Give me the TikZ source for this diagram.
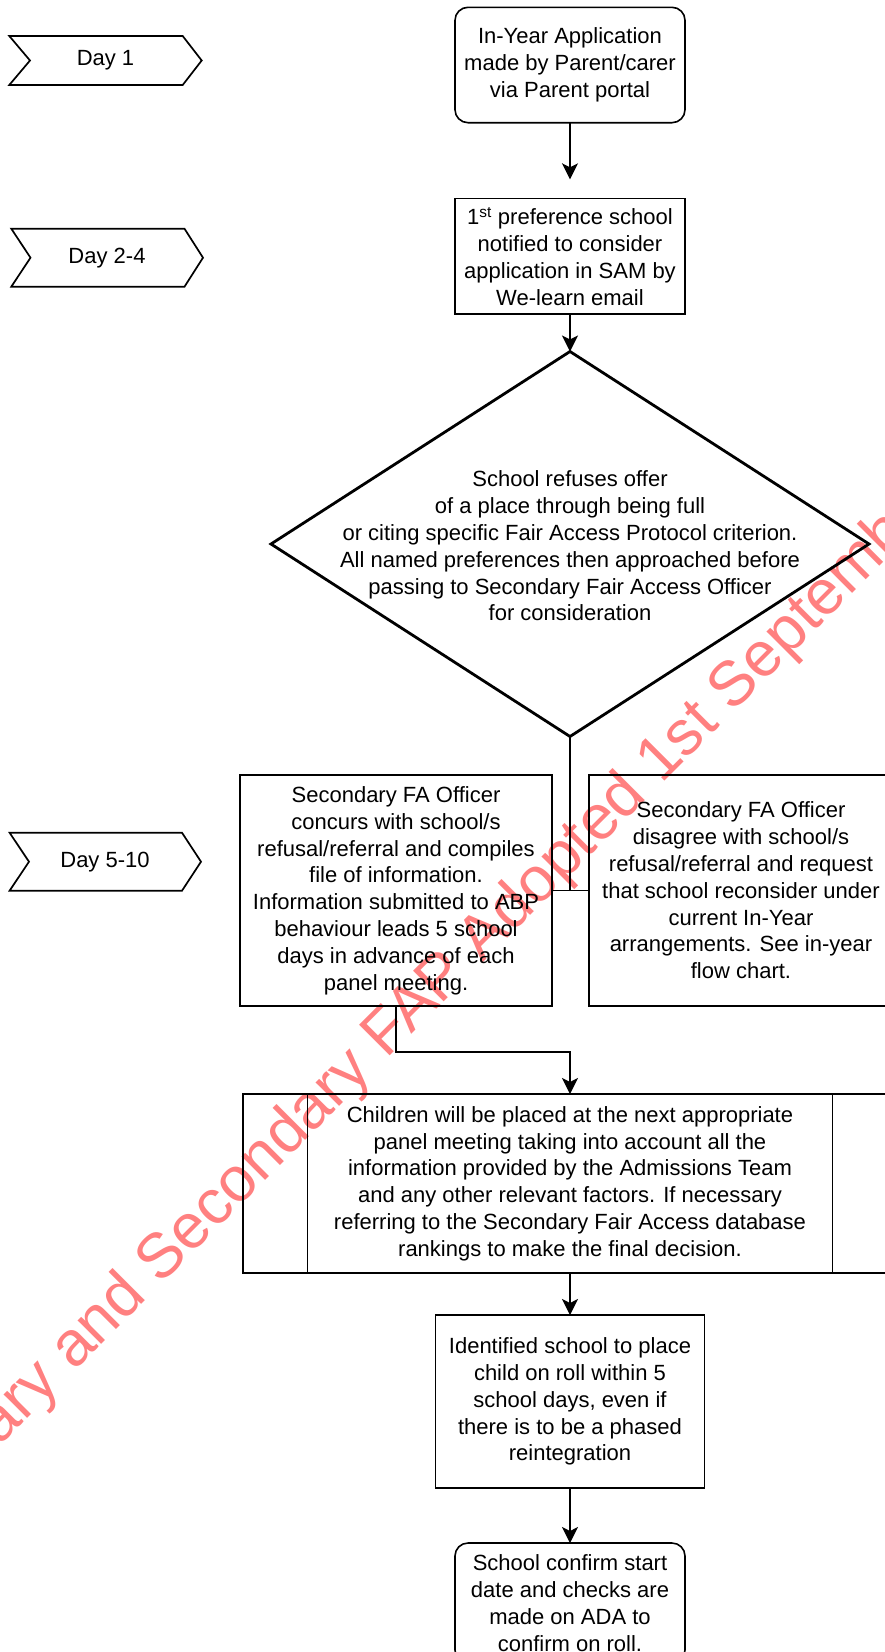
\documentclass[tikz,border=0pt]{standalone}
\usepackage{fontspec}
\setmainfont{Liberation Sans}
\usetikzlibrary{shapes.geometric,arrows.meta}
\definecolor{wmred}{RGB}{255,128,128}
\begin{document}
\begin{tikzpicture}[x=1pt,y=-1pt,
  every node/.style={font=\fontsize{22}{26.8}\selectfont, align=center, inner sep=0pt, outer sep=0pt},
  box/.style={draw, line width=1.6pt, rectangle},
  rbox/.style={box, rounded corners=13pt},
  link/.style={line width=1.5pt},
  arr/.style={line width=1.5pt, -{Stealth[length=16pt,width=16pt,inset=4pt]}},
  chev/.style={draw, line width=1.7pt, line join=miter},
  wm/.style={text=wmred, font=\fontsize{63}{63}\selectfont}]
\useasboundingbox (0,0) rectangle (885,1652);
\clip (0,0) rectangle (885,1652);

% watermark
\node[wm, anchor=base west, rotate=45] (wmk) at (0,1446) {ary and Secondary FAP Adopted 1st Septemb};

% day markers
\draw[chev] (9.3,36) -- (182.7,36) -- (201.7,60.5) -- (182.7,85) -- (9.3,85) -- (30,60.5) -- cycle;
\node (d1) at (105.5,60.5) {Day 1};
\draw[chev] (11.3,228.7) -- (184.5,228.7) -- (203,257.7) -- (184.5,286.7) -- (11.3,286.7) -- (30.5,257.7) -- cycle;
\node (d2) at (107,257.7) {Day 2-4};
\draw[chev] (9.6,832.7) -- (182,832.7) -- (201,861.7) -- (182,890.7) -- (9.6,890.7) -- (29,861.7) -- cycle;
\node (d3) at (105,861.7) {Day 5-10};

% flow
\node[rbox, minimum width=230pt, minimum height=115.4pt] (n1) at (570,65)
  {In-Year Application\\made by Parent/carer\\via Parent portal};
\node[box, minimum width=230pt, minimum height=115.3pt] (n2) at (570,256.3)
  {1\textsuperscript{st} preference school\\notified to consider\\application in SAM by\\We-learn email};
\coordinate (a1) at (570,179.3);
\draw[arr] (n1.south) -- (a1);

\node[draw, diamond, line width=2.8pt, minimum width=598pt, minimum height=385pt] (dia) at (570,544) {};
\node (diat) at (570,546) {School refuses offer\\of a place through being full\\or citing specific Fair Access Protocol criterion.\\All named preferences then approached before\\passing to Secondary Fair Access Officer\\for consideration};
\draw[arr] (n2.south) -- (dia.north);

\node[box, minimum width=312pt, minimum height=231pt] (lb) at (396,890.5)
  {Secondary FA Officer\\concurs with school/s\\refusal/referral and compiles\\file of information.\\Information submitted to ABP\\behaviour leads 5 school\\days in advance of each\\panel meeting.};
\node[box, minimum width=304pt, minimum height=231pt] (rb) at (741,890.5)
  {Secondary FA Officer\\disagree with school/s\\refusal/referral and request\\that school reconsider under\\current In-Year\\arrangements. See in-year\\flow chart.};
\draw[link] (dia.south) -- (dia.south |- lb.east);
\draw[link] (lb.east) -- (rb.west);

\node[box, minimum width=654pt, minimum height=179pt] (big) at (570,1183.5)
  {Children will be placed at the next appropriate\\panel meeting taking into account all the\\information provided by the Admissions Team\\and any other relevant factors. If necessary\\referring to the Secondary Fair Access database\\rankings to make the final decision.};
\draw[link] ([xshift=64.6pt]big.north west) -- ([xshift=64.6pt]big.south west);
\draw[link] ([xshift=-64.6pt]big.north east) -- ([xshift=-64.6pt]big.south east);
\coordinate (k1) at (396,1052);
\draw[arr] (lb.south) -- (k1) -| (big.north);

\node[box, minimum width=269pt, minimum height=173pt] (idb) at (570,1401.5)
  {Identified school to place\\child on roll within 5\\school days, even if\\there is to be a phased\\reintegration};
\draw[arr] (big.south) -- (idb.north);

\node[rbox, minimum width=230pt, minimum height=120pt] (last) at (570,1603)
  {School confirm start\\date and checks are\\made on ADA to\\confirm on roll.};
\draw[arr] (idb.south) -- (last.north);
\end{tikzpicture}
\end{document}
